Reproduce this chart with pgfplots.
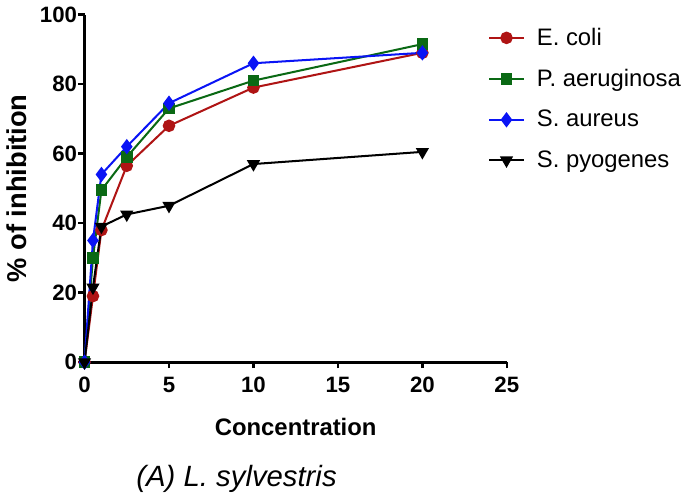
\documentclass[border=0pt]{standalone}
\usepackage{pgfplots}
\pgfplotsset{compat=1.18}
\usepackage{fontspec}
\setmainfont{Liberation Sans}
\definecolor{cred}{RGB}{175,20,20}
\definecolor{cgreen}{RGB}{10,105,20}
\definecolor{cblue}{RGB}{10,20,245}
\begin{document}
\begin{tikzpicture}
\begin{axis}[
  scale only axis,
  width=209pt, height=172pt,
  xmin=0, xmax=25, ymin=0, ymax=100,
  axis x line=bottom, axis y line=left,
  axis line style={line width=1.5pt, -},
  xtick={0,5,10,15,20,25}, ytick={0,20,40,60,80,100},
  tick align=outside, major tick length=3pt,
  tick style={line width=1.2pt, black},
  /pgf/number format/assume math mode=true,
  ticklabel style={font=\fontsize{11}{12}\selectfont\bfseries},
  yticklabel style={inner xsep=0.5pt},
  xticklabel style={yshift=-1pt},
  xlabel={\bfseries Concentration},
  ylabel={\bfseries \% of inhibition},
  xlabel style={font=\fontsize{11.8}{13}\selectfont, yshift=-5.5pt},
  ylabel style={font=\fontsize{13.5}{15}\selectfont, yshift=2.5pt},
  clip=false,
  legend style={at={(0.955,0.975)}, anchor=north west, draw=none, fill=none,
    font=\fontsize{11.8}{13}\selectfont, row sep=6.3pt, inner sep=0pt},
  legend cell align=left,
  every axis plot/.append style={line width=1pt},
]
\addplot[cred, mark=*, mark size=2.6pt] coordinates {(0,0) (0.5,19) (1,38) (2.5,56.5) (5,68) (10,79) (20,89)};
\addlegendentry{\hspace*{4pt}E. coli}
\addplot[cgreen, mark=square*, mark size=2.4pt] coordinates {(0,0) (0.5,30) (1,49.5) (2.5,59) (5,73) (10,81) (20,91.5)};
\addlegendentry{\hspace*{4pt}P. aeruginosa}
\addplot[cblue, mark=diamond*, mark size=3pt] coordinates {(0,0) (0.5,35) (1,54) (2.5,62) (5,74.5) (10,86) (20,89)};
\addlegendentry{\hspace*{4pt}S. aureus}
\addplot[black, mark=triangle*, mark options={rotate=180}, mark size=2.8pt] coordinates {(0,0) (0.5,21.5) (1,39) (2.5,42.5) (5,45) (10,57) (20,60.5)};
\addlegendentry{\hspace*{4pt}S. pyogenes}
\node[font=\fontsize{14.5}{16}\selectfont\itshape, anchor=center] at (rel axis cs:0.36,-0.335) {(A) L. sylvestris};
\end{axis}
\end{tikzpicture}
\end{document}
